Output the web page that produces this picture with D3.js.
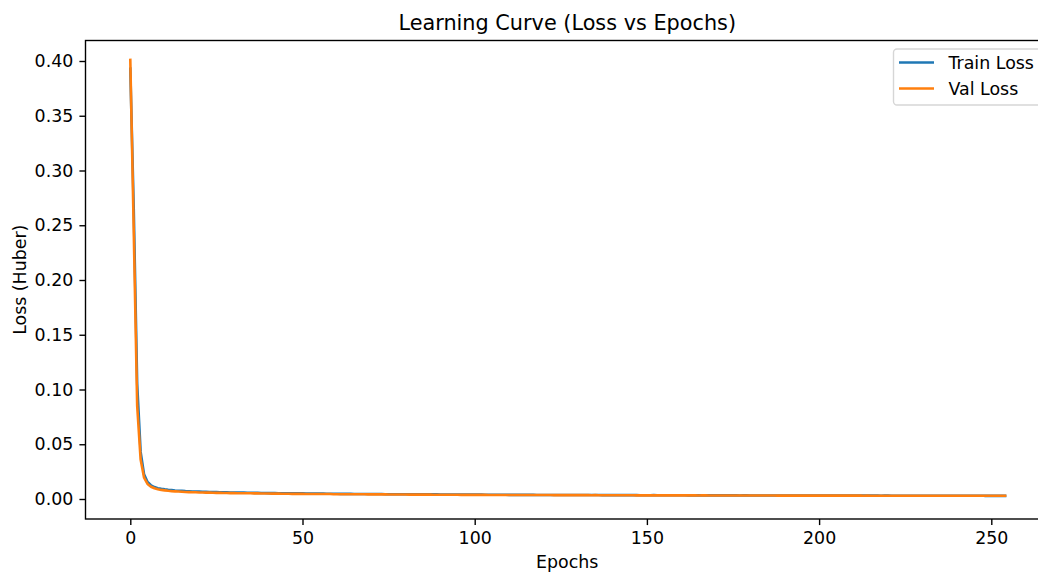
<!DOCTYPE html>
<html>
<head>
<meta charset="utf-8">
<script src="https://cdn.jsdelivr.net/npm/d3@7"></script>
<style>
  html, body { margin: 0; padding: 0; background: #fff; }
  svg { display: block; }
  text { font-family: "DejaVu Sans", sans-serif; fill: #000; }
</style>
</head>
<body>
<svg id="chart" width="1038" height="572"></svg>
<script>
// ---- data ----
const xTicks = [0, 50, 100, 150, 200, 250];
const yTicks = [0.00, 0.05, 0.10, 0.15, 0.20, 0.25, 0.30, 0.35, 0.40];
const seriesNames = ["Train Loss", "Val Loss"];

const trainLoss = [
  0.3930,0.2650,0.1050,0.0430,0.0225,0.0155,0.0125,0.0109,0.0099,0.0093,
  0.0088,0.0084,0.0081,0.0078,0.0076,0.0074,0.0072,0.0071,0.0069,0.0068,
  0.0067,0.0066,0.0065,0.0064,0.0063,0.0063,0.0062,0.0061,0.0061,0.0060,
  0.0059,0.0059,0.0058,0.0058,0.0057,0.0057,0.0056,0.0056,0.0055,0.0055,
  0.0054,0.0054,0.0054,0.0053,0.0053,0.0052,0.0052,0.0052,0.0051,0.0051,
  0.0051,0.0050,0.0050,0.0050,0.0049,0.0049,0.0049,0.0048,0.0048,0.0048,
  0.0048,0.0047,0.0047,0.0047,0.0047,0.0046,0.0046,0.0046,0.0046,0.0045,
  0.0045,0.0045,0.0045,0.0045,0.0044,0.0044,0.0044,0.0044,0.0044,0.0043,
  0.0043,0.0043,0.0043,0.0043,0.0042,0.0042,0.0042,0.0042,0.0042,0.0042,
  0.0041,0.0041,0.0041,0.0041,0.0041,0.0041,0.0040,0.0040,0.0040,0.0040,
  0.0040,0.0040,0.0040,0.0039,0.0039,0.0039,0.0039,0.0039,0.0039,0.0039,
  0.0038,0.0038,0.0038,0.0038,0.0038,0.0038,0.0038,0.0038,0.0037,0.0037,
  0.0037,0.0037,0.0037,0.0037,0.0037,0.0037,0.0037,0.0036,0.0036,0.0036,
  0.0036,0.0036,0.0036,0.0036,0.0036,0.0036,0.0036,0.0035,0.0035,0.0035,
  0.0035,0.0035,0.0035,0.0035,0.0035,0.0035,0.0035,0.0035,0.0034,0.0034,
  0.0034,0.0034,0.0035,0.0034,0.0034,0.0034,0.0034,0.0034,0.0034,0.0034,
  0.0034,0.0034,0.0033,0.0034,0.0033,0.0033,0.0033,0.0033,0.0033,0.0033,
  0.0033,0.0033,0.0033,0.0033,0.0033,0.0033,0.0033,0.0032,0.0033,0.0033,
  0.0032,0.0032,0.0032,0.0032,0.0032,0.0032,0.0032,0.0032,0.0032,0.0032,
  0.0032,0.0032,0.0032,0.0032,0.0032,0.0032,0.0031,0.0032,0.0032,0.0031,
  0.0031,0.0031,0.0031,0.0031,0.0032,0.0031,0.0031,0.0031,0.0031,0.0031,
  0.0031,0.0031,0.0031,0.0031,0.0031,0.0031,0.0031,0.0031,0.0030,0.0031,
  0.0031,0.0030,0.0030,0.0030,0.0030,0.0030,0.0030,0.0030,0.0030,0.0030,
  0.0030,0.0030,0.0030,0.0030,0.0030,0.0030,0.0030,0.0030,0.0030,0.0030,
  0.0030,0.0030,0.0030,0.0030,0.0030,0.0029,0.0030,0.0030,0.0029,0.0029,
  0.0029,0.0029,0.0029,0.0029,0.0029
];

const valLoss = [
  0.4010,0.2450,0.0850,0.0360,0.0195,0.0138,0.0112,0.0098,0.0089,0.0083,
  0.0079,0.0075,0.0072,0.0070,0.0068,0.0066,0.0064,0.0063,0.0062,0.0061,
  0.0060,0.0059,0.0058,0.0058,0.0057,0.0056,0.0056,0.0055,0.0055,0.0054,
  0.0054,0.0053,0.0053,0.0052,0.0052,0.0052,0.0051,0.0051,0.0050,0.0050,
  0.0050,0.0049,0.0049,0.0049,0.0048,0.0048,0.0048,0.0047,0.0047,0.0047,
  0.0047,0.0046,0.0046,0.0046,0.0046,0.0045,0.0045,0.0045,0.0045,0.0044,
  0.0044,0.0044,0.0044,0.0044,0.0043,0.0043,0.0043,0.0043,0.0043,0.0042,
  0.0042,0.0042,0.0042,0.0042,0.0042,0.0041,0.0041,0.0041,0.0041,0.0041,
  0.0041,0.0040,0.0040,0.0040,0.0040,0.0040,0.0040,0.0040,0.0039,0.0039,
  0.0039,0.0039,0.0039,0.0039,0.0039,0.0039,0.0038,0.0038,0.0038,0.0038,
  0.0038,0.0038,0.0038,0.0038,0.0037,0.0037,0.0037,0.0037,0.0037,0.0037,
  0.0037,0.0037,0.0037,0.0036,0.0036,0.0036,0.0036,0.0036,0.0036,0.0036,
  0.0036,0.0036,0.0036,0.0035,0.0036,0.0035,0.0035,0.0035,0.0035,0.0035,
  0.0035,0.0035,0.0035,0.0035,0.0034,0.0035,0.0034,0.0034,0.0034,0.0034,
  0.0034,0.0034,0.0034,0.0034,0.0034,0.0034,0.0034,0.0033,0.0034,0.0033,
  0.0033,0.0033,0.0033,0.0033,0.0033,0.0033,0.0033,0.0033,0.0033,0.0033,
  0.0033,0.0033,0.0033,0.0033,0.0033,0.0032,0.0033,0.0033,0.0032,0.0032,
  0.0032,0.0032,0.0032,0.0032,0.0032,0.0032,0.0032,0.0032,0.0032,0.0032,
  0.0032,0.0032,0.0032,0.0032,0.0032,0.0032,0.0032,0.0032,0.0031,0.0032,
  0.0031,0.0031,0.0031,0.0031,0.0031,0.0031,0.0031,0.0031,0.0031,0.0031,
  0.0031,0.0031,0.0031,0.0031,0.0031,0.0031,0.0031,0.0031,0.0031,0.0031,
  0.0031,0.0031,0.0031,0.0030,0.0031,0.0030,0.0030,0.0030,0.0030,0.0030,
  0.0030,0.0030,0.0030,0.0030,0.0030,0.0030,0.0030,0.0030,0.0030,0.0030,
  0.0030,0.0030,0.0030,0.0030,0.0030,0.0030,0.0030,0.0030,0.0030,0.0030,
  0.0030,0.0030,0.0030,0.0030,0.0030,0.0030,0.0030,0.0029,0.0030,0.0030,
  0.0030,0.0030,0.0030,0.0030,0.0030
];

// ---- layout ----
const svg = d3.select("#chart");
const frame = { left: 85.5, top: 40.5, right: 1049, bottom: 519 };
const colors = ["#1f77b4", "#ff7f0e"];
const fs = 17.4;      // 10pt @125dpi
const tfs = 20.8;     // 12pt @125dpi
const tick = 6.08;
const lw = 2.6;
const sw = 1.39;

const x = d3.scaleLinear().domain([0, 250]).range([130.3, 991.3]);
const y = d3.scaleLinear().domain([0, 0.40]).range([499, 61]);

// lines
const line = d3.line().x((d, i) => x(i)).y(d => y(d));
const series = [trainLoss, valLoss];
series.forEach((s, k) => {
  svg.append("path")
    .datum(s)
    .attr("d", line)
    .attr("fill", "none")
    .attr("stroke", colors[k])
    .attr("stroke-width", lw)
    .attr("stroke-linejoin", "round")
    .attr("stroke-linecap", "square");
});

// frame (spines)
svg.append("rect")
  .attr("x", frame.left).attr("y", frame.top)
  .attr("width", frame.right - frame.left)
  .attr("height", frame.bottom - frame.top)
  .attr("fill", "none").attr("stroke", "#000").attr("stroke-width", sw);

// x axis
const xAxis = svg.append("g")
  .attr("transform", `translate(0,${frame.bottom})`)
  .call(d3.axisBottom(x).tickValues(xTicks).tickSize(tick).tickPadding(tick).tickFormat(d3.format("d")));
xAxis.select(".domain").remove();
xAxis.selectAll(".tick line").attr("stroke", "#000").attr("stroke-width", sw);
xAxis.selectAll(".tick text").attr("font-size", fs + "px").attr("font-family", "DejaVu Sans").attr("fill", "#000");

// y axis
const yAxis = svg.append("g")
  .attr("transform", `translate(${frame.left},0)`)
  .call(d3.axisLeft(y).tickValues(yTicks).tickSize(tick).tickPadding(tick).tickFormat(d3.format(".2f")));
yAxis.select(".domain").remove();
yAxis.selectAll(".tick line").attr("stroke", "#000").attr("stroke-width", sw);
yAxis.selectAll(".tick text").attr("font-size", fs + "px").attr("font-family", "DejaVu Sans").attr("fill", "#000");

// title & labels
const cx = (frame.left + frame.right) / 2;
svg.append("text").attr("x", cx).attr("y", 30)
  .attr("text-anchor", "middle").attr("font-size", tfs + "px")
  .text("Learning Curve (Loss vs Epochs)");
svg.append("text").attr("x", cx).attr("y", 567.5)
  .attr("text-anchor", "middle").attr("font-size", fs + "px")
  .text("Epochs");
svg.append("text")
  .attr("transform", `translate(26,${(frame.top + frame.bottom) / 2}) rotate(-90)`)
  .attr("text-anchor", "middle").attr("font-size", fs + "px")
  .text("Loss (Huber)");

// legend
const lg = svg.append("g");
lg.append("rect")
  .attr("x", 893.5).attr("y", 49).attr("width", 160).attr("height", 56)
  .attr("rx", 3.5).attr("ry", 3.5)
  .attr("fill", "#fff").attr("fill-opacity", 0.8)
  .attr("stroke", "#d6d6d6").attr("stroke-width", sw);
seriesNames.forEach((name, k) => {
  const ly = 62.5 + k * 26;
  lg.append("line")
    .attr("x1", 899).attr("x2", 934).attr("y1", ly).attr("y2", ly)
    .attr("stroke", colors[k]).attr("stroke-width", lw);
  lg.append("text").attr("x", 948.5).attr("y", ly + 6.8)
    .attr("font-size", fs + "px").text(name);
});
</script>
</body>
</html>
